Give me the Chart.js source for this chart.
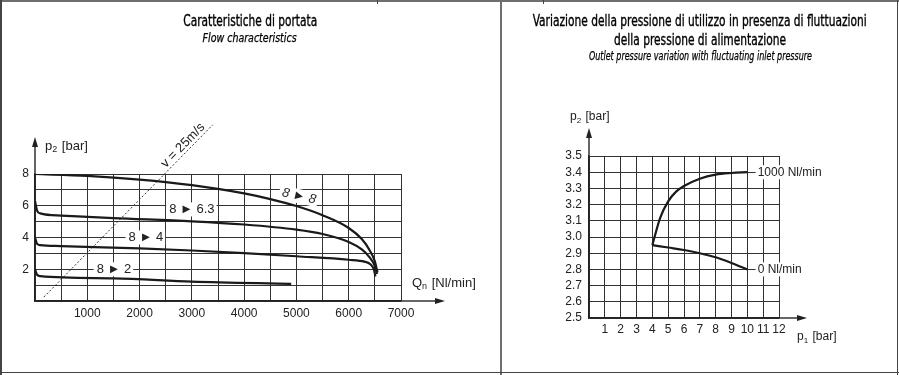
<!DOCTYPE html>
<html>
<head>
<meta charset="utf-8">
<title>Flow characteristics</title>
<script src="https://cdn.jsdelivr.net/npm/chart.js@4.4.1/dist/chart.umd.min.js"></script>
<style>
  body { margin: 0; background: #fff; }
  #page {
    position: relative; width: 899px; height: 375px; overflow: hidden; background: #fff;
    font-family: "DejaVu Sans Condensed", "DejaVu Sans", sans-serif; font-stretch: condensed; color: #000;
  }
  .rule { position: absolute; background: #6e6e6e; }
  .t {
    position: absolute; width: 600px; text-align: center; font-size: 15px; line-height: 18px;
    white-space: nowrap; z-index: 2; -webkit-text-stroke: 0.35px #000;
  }
  .t.sub { font-style: italic; font-size: 12px; line-height: 14px; -webkit-text-stroke: 0.25px #000; }
  .t span { display: inline-block; transform-origin: 50% 50%; }
  canvas { position: absolute; top: 0; }
</style>
</head>
<body>
<div id="page">
  <!-- frame -->
  <div class="rule" style="left:0;top:0;width:899px;height:2px;"></div>
  <div class="rule" style="left:0;top:0;width:2px;height:375px;background:#444;"></div>
  <div class="rule" style="left:500px;top:0;width:2px;height:375px;"></div>
  <div class="rule" style="left:897px;top:0;width:1px;height:375px;background:#444;"></div>
  <div class="rule" style="left:0;top:372px;width:899px;height:1px;background:#444;"></div>
  <div class="rule" style="left:377px;top:0;width:1px;height:4px;background:#444;"></div>
  <div class="rule" style="left:543px;top:0;width:1px;height:4px;background:#444;"></div>

  <!-- titles: each box is 600px wide around its centre line, data-w = printed width -->
  <div class="t" data-w="134" style="left:-50px;top:12px;"><span>Caratteristiche di portata</span></div>
  <div class="t sub" data-w="94" style="left:-50px;top:31px;"><span>Flow characteristics</span></div>
  <div class="t" data-w="334" style="left:400px;top:12px;"><span>Variazione della pressione di utilizzo in presenza di fluttuazioni</span></div>
  <div class="t" data-w="172" style="left:400px;top:31px;"><span>della pressione di alimentazione</span></div>
  <div class="t sub" data-w="223" style="left:400px;top:49px;"><span>Outlet pressure variation with fluctuating inlet pressure</span></div>

  <canvas id="flowChart" width="500" height="375" style="left:0;"></canvas>
  <canvas id="pressureChart" width="395" height="375" style="left:502px;"></canvas>
</div>

<script>
// ---- Flow characteristics (left) ----
const flowMaxQ = 7000;
const flowMaxP = 8;

// curve 8 -> 8
const q88 = [0, 1000, 2000, 3000, 4000, 4500, 5000, 5500, 6000, 6250, 6400, 6500, 6550];
const p88 = [8.0, 7.88, 7.65, 7.3, 6.78, 6.42, 5.98, 5.4, 4.6, 3.9, 3.2, 2.5, 1.8];
// curve 8 -> 6.3
const q863 = [0, 40, 100, 500, 1500, 3000, 4000, 5000, 5500, 6000, 6250, 6400, 6500, 6540];
const p863 = [6.3, 5.7, 5.52, 5.38, 5.22, 5.02, 4.82, 4.5, 4.22, 3.72, 3.25, 2.75, 2.2, 1.7];
// curve 8 -> 4
const q84 = [0, 40, 100, 500, 2000, 3000, 4000, 5000, 6000, 6300, 6420, 6480, 6510];
const p84 = [4.0, 3.6, 3.52, 3.46, 3.31, 3.18, 3.02, 2.82, 2.6, 2.48, 2.3, 2.0, 1.55];
// curve 8 -> 2
const q82 = [0, 40, 100, 1500, 3000, 4900];
const p82 = [2.0, 1.65, 1.57, 1.43, 1.22, 1.08];
// v = 25 m/s reference line
const velQ = [170, 3400];
const velP = [0.25, 11.1];

// ---- Outlet pressure variation (right) ----
const p1Max = 12;
const p2Min = 2.5;
const p2Max = 3.5;
const p1Flow1000 = [4, 4.5, 5, 5.5, 6, 7, 8, 9, 10];
const p2Flow1000 = [2.95, 3.12, 3.22, 3.28, 3.315, 3.36, 3.385, 3.395, 3.4];
const p1Flow0 = [4, 5, 6, 7, 8, 9, 10];
const p2Flow0 = [2.95, 2.935, 2.92, 2.9, 2.875, 2.84, 2.8];

const INK = "#1a1a1a";
const GRID = "#333";
const SANS = "Liberation Sans, Arial, sans-serif";
const TICK_FONT = { family: SANS, size: 12 };

// squeeze title lines to the printed width
document.querySelectorAll(".t").forEach((el) => {
  const span = el.querySelector("span");
  const w = span.getBoundingClientRect().width;
  span.style.transform = "scaleX(" + (Number(el.dataset.w) / w).toFixed(3) + ")";
});

function pts(xs, ys) {
  return xs.map((x, i) => ({ x: x, y: ys[i] }));
}

function curve(xs, ys) {
  return {
    data: pts(xs, ys),
    borderColor: INK,
    borderWidth: 2.2,
    pointRadius: 0,
    cubicInterpolationMode: "monotone",
    fill: false,
  };
}

// line with filled arrow head at (x2, y2)
function arrow(ctx, x1, y1, x2, y2) {
  const ang = Math.atan2(y2 - y1, x2 - x1);
  ctx.strokeStyle = "#333";
  ctx.fillStyle = "#222";
  ctx.lineWidth = 1.5;
  ctx.beginPath();
  ctx.moveTo(x1, y1);
  ctx.lineTo(x2 - 8 * Math.cos(ang), y2 - 8 * Math.sin(ang));
  ctx.stroke();
  ctx.save();
  ctx.translate(x2, y2);
  ctx.rotate(ang);
  ctx.beginPath();
  ctx.moveTo(0, 0);
  ctx.lineTo(-10, -3);
  ctx.lineTo(-10, 3);
  ctx.closePath();
  ctx.fill();
  ctx.restore();
}

// "p" + subscript + rest, left aligned at x, middle at y
function subLabel(ctx, x, y, main, sub, rest, size) {
  ctx.fillStyle = "#222";
  ctx.textBaseline = "middle";
  ctx.textAlign = "left";
  ctx.font = size + "px " + SANS;
  ctx.fillText(main, x, y);
  let w = ctx.measureText(main).width;
  ctx.font = Math.round(size * 0.68) + "px " + SANS;
  ctx.fillText(sub, x + w, y + 4);
  w += ctx.measureText(sub).width + 1;
  ctx.font = size + "px " + SANS;
  ctx.fillText(rest, x + w, y);
}

// text with a white box behind it
function boxedText(ctx, text, x, y, font, angle, align) {
  ctx.save();
  ctx.translate(x, y);
  ctx.rotate(angle || 0);
  ctx.font = font;
  ctx.textBaseline = "middle";
  ctx.textAlign = align || "center";
  const w = ctx.measureText(text).width;
  const left = align === "left" ? -2 : -w / 2 - 3;
  ctx.fillStyle = "#fff";
  ctx.fillRect(left, -7, w + 5, 14);
  ctx.fillStyle = "#222";
  ctx.fillText(text, 0, 0);
  ctx.restore();
}

const flowDecor = {
  id: "flowDecor",
  afterDatasetsDraw(chart) {
    const { ctx, chartArea: a, scales: { x, y } } = chart;
    ctx.save();
    arrow(ctx, a.right, a.bottom, a.right + 44, a.bottom);
    arrow(ctx, a.left, a.top, a.left, a.top - 37);
    subLabel(ctx, a.left + 10, a.top - 28, "p", "2", " [bar]", 13);
    subLabel(ctx, a.right + 11, a.bottom - 18, "Q", "n", " [Nl/min]", 13);

    const f13 = "13px " + SANS;
    boxedText(ctx, "8 \u25BA 8", x.getPixelForValue(5050), y.getPixelForValue(6.6), "italic " + f13, 0.22);
    boxedText(ctx, "8 \u25BA 6.3", x.getPixelForValue(3000), y.getPixelForValue(5.77), f13);
    boxedText(ctx, "8 \u25BA 4", x.getPixelForValue(2120), y.getPixelForValue(4), f13);
    boxedText(ctx, "8 \u25BA 2", x.getPixelForValue(1510), y.getPixelForValue(2), f13);

    // v = 25m/s text along the dotted line
    const x0 = x.getPixelForValue(velQ[0]), y0 = y.getPixelForValue(velP[0]);
    const x1 = x.getPixelForValue(velQ[1]), y1 = y.getPixelForValue(velP[1]);
    const ang = Math.atan2(y1 - y0, x1 - x0);
    ctx.translate(x.getPixelForValue(2830), y.getPixelForValue(9.8));
    ctx.rotate(ang);
    ctx.font = f13;
    ctx.fillStyle = "#222";
    ctx.textAlign = "center";
    ctx.textBaseline = "middle";
    ctx.fillText("v = 25m/s", 0, 0);
    ctx.restore();
  },
};

const pressureDecor = {
  id: "pressureDecor",
  afterDatasetsDraw(chart) {
    const { ctx, chartArea: a, scales: { x, y } } = chart;
    ctx.save();
    arrow(ctx, a.right, a.bottom, a.right + 28, a.bottom);
    arrow(ctx, a.left, a.top, a.left, a.top - 28);
    subLabel(ctx, a.left - 19, a.top - 39, "p", "2", " [bar]", 12);
    subLabel(ctx, a.right + 18, a.bottom + 19, "p", "1", " [bar]", 12);
    const font = "12px " + SANS;
    boxedText(ctx, "1000 Nl/min", x.getPixelForValue(10.65), y.getPixelForValue(3.4), font, 0, "left");
    boxedText(ctx, "0 Nl/min", x.getPixelForValue(10.65), y.getPixelForValue(2.8), font, 0, "left");
    ctx.restore();
  },
};

function axis(min, max, step, fmt, padding, fixedSize, isY) {
  return {
    type: "linear",
    min: min,
    max: max,
    ticks: {
      stepSize: step,
      autoSkip: false,
      maxRotation: 0,
      padding: padding,
      color: "#222",
      font: TICK_FONT,
      callback: fmt,
    },
    grid: { color: GRID, lineWidth: 1, drawTicks: false },
    border: { color: "#222", width: 1.5 },
    afterFit: (s) => {
      if (isY) s.width = fixedSize;
      else s.height = fixedSize;
    },
  };
}

document.addEventListener("DOMContentLoaded", function () {
  // Flow characteristics
  new Chart(document.getElementById("flowChart"), {
    type: "line",
    data: {
      datasets: [
        curve(q88, p88),
        curve(q863, p863),
        curve(q84, p84),
        curve(q82, p82),
        {
          data: pts(velQ, velP),
          borderColor: "#333",
          borderWidth: 1,
          borderDash: [2, 2],
          pointRadius: 0,
          clip: false,
        },
      ],
    },
    options: {
      responsive: false,
      animation: false,
      layout: { padding: { left: 0, top: 174, right: 99, bottom: 54 } },
      plugins: { legend: { display: false }, tooltip: { enabled: false } },
      scales: {
        x: axis(0, flowMaxQ, 500, (v) => (v > 0 && v % 1000 === 0 ? v : ""), 5, 20, false),
        y: axis(0, flowMaxP, 1, (v) => (v > 0 && v % 2 === 0 ? v : ""), 6, 35, true),
      },
    },
    plugins: [flowDecor],
  });

  // Outlet pressure variation
  new Chart(document.getElementById("pressureChart"), {
    type: "line",
    data: {
      datasets: [curve(p1Flow1000, p2Flow1000), curve(p1Flow0, p2Flow0)],
    },
    options: {
      responsive: false,
      animation: false,
      layout: { padding: { left: 50, top: 156, right: 118, bottom: 37 } },
      plugins: { legend: { display: false }, tooltip: { enabled: false } },
      scales: {
        x: axis(0, p1Max, 1, (v) => (v > 0 ? v : ""), 4, 20, false),
        y: axis(p2Min, p2Max, 0.1, (v) => v.toFixed(1), 7, 37, true),
      },
    },
    plugins: [pressureDecor],
  });
});
</script>
</body>
</html>
